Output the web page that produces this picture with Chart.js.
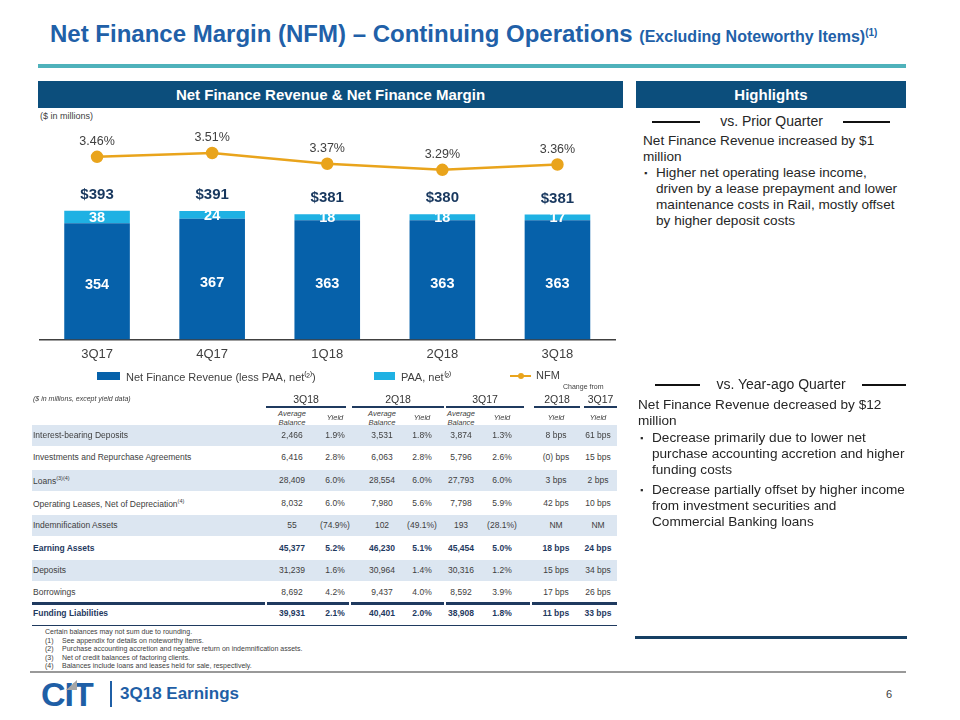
<!DOCTYPE html>
<html><head><meta charset="utf-8">
<script src="https://cdn.jsdelivr.net/npm/chart.js@4.4.0/dist/chart.umd.min.js"></script>
<style>
html,body{margin:0;padding:0;background:#fff;}
body{width:960px;height:720px;position:relative;overflow:hidden;font-family:"Liberation Sans",Arial,sans-serif;color:#333;}
.a{position:absolute;white-space:nowrap;}
.bar{background:#0c4e7c;color:#fff;font-weight:bold;font-size:15px;text-align:center;line-height:27px;}
.hl{font-size:13.6px;line-height:16px;color:#262626;}
.cell{position:absolute;font-size:8.5px;color:#404040;text-align:center;transform:translateX(-50%);white-space:nowrap;}
.lab{position:absolute;font-size:8.5px;color:#404040;white-space:nowrap;}
.foot{position:absolute;font-size:7px;color:#404040;white-space:nowrap;}
</style></head><body>

<div class="a" style="left:50px;top:20px;color:#2160a8;font-weight:bold;font-size:24px;">Net Finance Margin (NFM) – Continuing Operations <span style="font-size:16px;">(Excluding Noteworthy Items)<sup style="font-size:10px;">(1)</sup></span></div>
<div class="a" style="left:38px;top:64px;width:868px;height:4px;background:#4fb2bb;"></div>
<div class="a bar" style="left:38px;top:81px;width:585px;height:27px;">Net Finance Revenue &amp; Net Finance Margin</div>
<div class="a bar" style="left:636px;top:81px;width:270px;height:27px;">Highlights</div>
<div class="a" style="left:40px;top:111px;font-size:9px;color:#404040;">($ in millions)</div>

<div class="a" style="left:32px;top:110px;width:592px;height:264px;"><canvas id="c" width="592" height="264"></canvas></div>
<div id="legend"></div>
<div id="table"></div>

<!-- Highlights -->
<div class="a" style="left:652px;top:121px;width:48px;height:2px;background:#111;"></div>
<div class="a" style="left:843px;top:121px;width:47px;height:2px;background:#111;"></div>
<div class="a" style="left:700px;top:113px;width:143px;text-align:center;font-size:14px;color:#262626;">vs. Prior Quarter</div>
<div class="a hl" style="left:643px;top:133px;">Net Finance Revenue increased by $1<br>million</div>
<div class="a hl" style="left:644px;top:165px;font-size:9px;">▪</div>
<div class="a hl" style="left:656px;top:165px;">Higher net operating lease income,<br>driven by a lease prepayment and lower<br>maintenance costs in Rail, mostly offset<br>by higher deposit costs</div>

<div class="a" style="left:655px;top:384px;width:45px;height:2px;background:#111;"></div>
<div class="a" style="left:862px;top:384px;width:44px;height:2px;background:#111;"></div>
<div class="a" style="left:700px;top:376px;width:162px;text-align:center;font-size:14px;color:#262626;">vs. Year-ago Quarter</div>
<div class="a hl" style="left:638px;top:397px;">Net Finance Revenue decreased by $12<br>million</div>
<div class="a hl" style="left:640px;top:430px;font-size:9px;">▪</div>
<div class="a hl" style="left:652px;top:430px;">Decrease primarily due to lower net<br>purchase accounting accretion and higher<br>funding costs</div>
<div class="a hl" style="left:640px;top:482px;font-size:9px;">▪</div>
<div class="a hl" style="left:652px;top:482px;">Decrease partially offset by higher income<br>from investment securities and<br>Commercial Banking loans</div>

<div class="a" style="left:635px;top:636px;width:272px;height:2.5px;background:#163f63;"></div>
<div class="a" style="left:30px;top:671px;width:876px;height:1.5px;background:#999;"></div>

<!-- footer -->
<div class="a" style="left:41px;top:675px;font-size:34px;font-weight:900;color:#1f5fa6;letter-spacing:-1px;font-family:'Liberation Sans',Arial;">CIT</div>
<div class="a" style="left:66px;top:680px;width:0;height:0;border-left:11px solid transparent;border-bottom:10px solid #a6a6a6;"></div>
<div class="a" style="left:110px;top:681px;width:2px;height:26px;background:#1f5fa6;"></div>
<div class="a" style="left:120px;top:684px;font-size:17px;font-weight:bold;color:#1f5fa6;">3Q18 Earnings</div>
<div class="a" style="left:886px;top:688px;font-size:11px;color:#404040;">6</div>

<script>
// ---- chart data ----
const categories = ['3Q17', '4Q17', '1Q18', '2Q18', '3Q18'];
const nfrLessPaa = [354, 367, 363, 363, 363];
const paaNet = [38, 24, 18, 18, 17];
const nfrTotals = [393, 391, 381, 380, 381];
const nfmPct = [3.46, 3.51, 3.37, 3.29, 3.36];
const seriesNames = ['Net Finance Revenue (less PAA, net\u207D\u00B2\u207E)', 'PAA, net\u207D\u00B2\u207E', 'NFM'];

// ---- table data ----
const rowLabels = ['Interest-bearing Deposits', 'Investments and Repurchase Agreements', 'Loans', 'Operating Leases, Net of Depreciation', 'Indemnification Assets', 'Earning Assets', 'Deposits', 'Borrowings', 'Funding Liabilities'];
const rowNotes = ['', '', '(3)(4)', '(4)', '', '', '', '', ''];
const bal3Q18 = ['2,466', '6,416', '28,409', '8,032', '55', '45,377', '31,239', '8,692', '39,931'];
const yld3Q18 = ['1.9%', '2.8%', '6.0%', '6.0%', '(74.9%)', '5.2%', '1.6%', '4.2%', '2.1%'];
const bal2Q18 = ['3,531', '6,063', '28,554', '7,980', '102', '46,230', '30,964', '9,437', '40,401'];
const yld2Q18 = ['1.8%', '2.8%', '6.0%', '5.6%', '(49.1%)', '5.1%', '1.4%', '4.0%', '2.0%'];
const bal3Q17 = ['3,874', '5,796', '27,793', '7,798', '193', '45,454', '30,316', '8,592', '38,908'];
const yld3Q17 = ['1.3%', '2.6%', '6.0%', '5.9%', '(28.1%)', '5.0%', '1.2%', '3.9%', '1.8%'];
const chgVs2Q18 = ['8 bps', '(0) bps', '3 bps', '42 bps', 'NM', '18 bps', '15 bps', '17 bps', '11 bps'];
const chgVs3Q17 = ['61 bps', '15 bps', '2 bps', '10 bps', 'NM', '24 bps', '34 bps', '26 bps', '33 bps'];
const groupHeaders = ['3Q18', '2Q18', '3Q17', '2Q18', '3Q17'];
const footnotes = ['Certain balances may not sum due to rounding.', 'See appendix for details on noteworthy items.', 'Purchase accounting accretion and negative return on indemnification assets.', 'Net of credit balances of factoring clients.', 'Balances include loans and leases held for sale, respectively.'];

const DARK = '#0661aa', LIGHT = '#1fb1e3', GOLD = '#e9a41c';
const SANS = '"Liberation Sans", Arial, sans-serif';
const NARROW = '"Liberation Sans Narrow", "Liberation Sans", Arial, sans-serif';

const labelPlugin = {
  id: 'valueLabels',
  afterDatasetsDraw(chart) {
    const ctx = chart.ctx;
    const m0 = chart.getDatasetMeta(0), m1 = chart.getDatasetMeta(1), m2 = chart.getDatasetMeta(2);
    ctx.save();
    ctx.textAlign = 'center'; ctx.textBaseline = 'middle';
    ctx.fillStyle = '#ffffff'; ctx.font = 'bold 14.5px ' + NARROW;
    m0.data.forEach((el, i) => ctx.fillText(String(nfrLessPaa[i]), el.x, (el.y + el.base) / 2 + 4));
    m1.data.forEach((el, i) => ctx.fillText(String(paaNet[i]), el.x, (el.y + el.base) / 2 + 1));
    ctx.fillStyle = '#17375e'; ctx.font = 'bold 15px ' + SANS;
    m1.data.forEach((el, i) => ctx.fillText('$' + nfrTotals[i], el.x, el.y - 16));
    ctx.fillStyle = '#404040'; ctx.font = '12.5px ' + SANS;
    m2.data.forEach((el, i) => ctx.fillText(nfmPct[i].toFixed(2) + '%', el.x, el.y - 15));
    ctx.restore();
  }
};

new Chart(document.getElementById('c'), {
  data: {
    labels: categories,
    datasets: [
      { type: 'bar', label: seriesNames[0], data: nfrLessPaa, backgroundColor: DARK, stack: 's', yAxisID: 'y', categoryPercentage: 1, barPercentage: 0.57, order: 2 },
      { type: 'bar', label: seriesNames[1], data: paaNet, backgroundColor: LIGHT, stack: 's', yAxisID: 'y', categoryPercentage: 1, barPercentage: 0.57, order: 2 },
      { type: 'line', label: seriesNames[2], data: nfmPct, borderColor: GOLD, backgroundColor: GOLD, borderWidth: 2.5, pointRadius: 5, pointBackgroundColor: GOLD, pointBorderColor: GOLD, tension: 0, yAxisID: 'y2', order: 1 }
    ]
  },
  options: {
    responsive: false, animation: false, devicePixelRatio: 1,
    layout: { padding: { top: 10, left: 2, right: 9, bottom: 5 } },
    plugins: { legend: { display: false }, tooltip: { enabled: false } },
    scales: {
      x: { stacked: true, grid: { display: false, drawTicks: false }, border: { display: true, color: '#404040', width: 1.5 },
           ticks: { color: '#404040', font: { size: 13, family: SANS }, padding: 7 } },
      y: { stacked: true, display: false, min: 0, max: 668 },
      y2: { display: false, min: 1.08, max: 3.94, position: 'right' }
    }
  },
  plugins: [labelPlugin]
});

// ---- legend (HTML) ----
(function () {
  const lg = document.getElementById('legend');
  const items = [
    { x: 97, w: 23, color: DARK, type: 'box', tx: 126 },
    { x: 374, w: 21, color: LIGHT, type: 'box', tx: 401 },
    { x: 510, w: 21, color: GOLD, type: 'line', tx: 536 }
  ];
  let html = '';
  items.forEach((it, i) => {
    if (it.type === 'box') html += `<div class="a" style="left:${it.x}px;top:372px;width:${it.w}px;height:8px;background:${it.color}"></div>`;
    else html += `<div class="a" style="left:${it.x}px;top:375px;width:${it.w}px;height:2px;background:${it.color}"></div><div class="a" style="left:${it.x + it.w / 2 - 3}px;top:373px;width:6px;height:6px;border-radius:3px;background:${it.color}"></div>`;
    html += `<div class="a" style="left:${it.tx}px;top:369px;font-size:11px;color:#404040;">${seriesNames[i]}</div>`;
  });
  lg.innerHTML = html;
})();

// ---- table (HTML) ----
(function () {
  const t = document.getElementById('table');
  const colX = [292, 335, 382, 422, 461, 502, 556, 598];
  const rowY = [436, 458, 481, 504, 526, 549, 571, 593, 614];
  const shaded = [0, 2, 4, 6];
  const boldRows = [5, 8];
  let h = '';
  shaded.forEach(r => { h += `<div class="a" style="left:32px;top:${rowY[r] - 11}px;width:585px;height:21px;background:#dce6f1"></div>`; });
  h += `<div class="foot" style="left:563px;top:383px;">Change from</div>`;
  h += `<div class="lab" style="left:33px;top:395px;font-size:7px;font-style:italic;">($ in millions, except yield data)</div>`;
  const groups = [[266, 346], [352, 444], [446, 524], [534, 580], [584, 617]];
  groups.forEach((g, i) => {
    h += `<div class="cell" style="left:${(g[0] + g[1]) / 2}px;top:393px;font-size:10.5px;color:#333;">${groupHeaders[i]}</div>`;
    h += `<div class="a" style="left:${g[0]}px;top:406px;width:${g[1] - g[0]}px;height:1.5px;background:#1f3a5f"></div>`;
  });
  [0, 2, 4].forEach(c => { h += `<div class="cell" style="left:${colX[c]}px;top:409px;font-size:7.5px;font-style:italic;line-height:9px;">Average<br>Balance</div>`; });
  [1, 3, 5, 6, 7].forEach(c => { h += `<div class="cell" style="left:${colX[c]}px;top:413px;font-size:7.5px;font-style:italic;">Yield</div>`; });
  const cols = [bal3Q18, yld3Q18, bal2Q18, yld2Q18, bal3Q17, yld3Q17, chgVs2Q18, chgVs3Q17];
  rowLabels.forEach((lab, r) => {
    const b = boldRows.includes(r);
    const st = b ? 'font-weight:bold;color:#1f3a5f;' : '';
    const sup = rowNotes[r] ? `<sup style="font-size:5.5px">${rowNotes[r]}</sup>` : '';
    h += `<div class="lab" style="left:33px;top:${rowY[r] - 6}px;${st}">${lab}${sup}</div>`;
    cols.forEach((col, c) => {
      const bb = b ? 'font-weight:bold;color:#1f3a5f;' : '';
      h += `<div class="cell" style="left:${colX[c]}px;top:${rowY[r] - 6}px;${bb}">${col[r]}</div>`;
    });
  });
  [[32, 265], [267, 349], [351, 444], [446, 530], [532, 617]].forEach(s => {
    h += `<div class="a" style="left:${s[0]}px;top:602px;width:${s[1] - s[0]}px;height:2.5px;background:#1f3a5f"></div>`;
  });
  h += `<div class="a" style="left:32px;top:625px;width:585px;height:1px;background:#1f3a5f"></div>`;
  footnotes.forEach((f, i) => {
    const y = 628 + i * 8.6;
    if (i > 0) h += `<div class="foot" style="left:45px;top:${y}px;">(${i})</div>`;
    h += `<div class="foot" style="left:${i === 0 ? 45 : 62}px;top:${y}px;">${f}</div>`;
  });
  t.innerHTML = h;
})();
</script>
</body></html>
